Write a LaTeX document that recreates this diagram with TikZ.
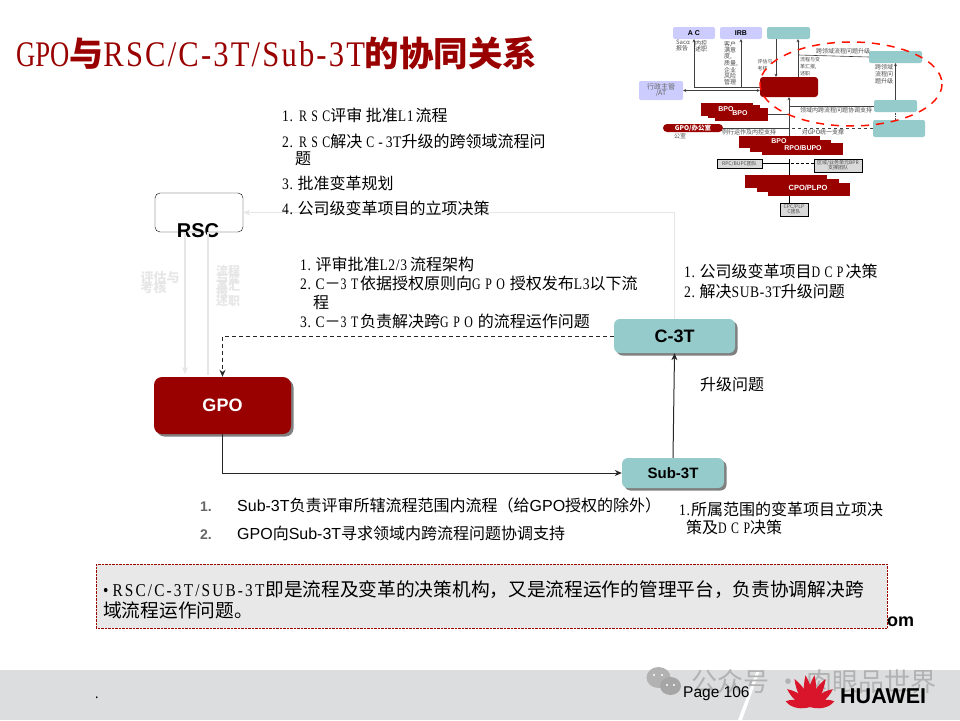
\documentclass[tikz,border=0pt]{standalone}
\usepackage{fontspec}
\setmainfont[FakeStretch=0.85,LetterSpace=4]{Liberation Serif}
\setsansfont{Liberation Sans}
\newfontfamily\cjk{Noto Sans CJK SC}
\newfontfamily\wide[FakeStretch=0.74,LetterSpace=28]{Liberation Serif}
\newfontfamily\titlefont[FakeStretch=0.85,LetterSpace=6]{Liberation Serif}
\newfontfamily\gpofont[FakeStretch=0.74]{Liberation Serif}
\newfontfamily\notefont[FakeStretch=0.85,LetterSpace=12]{Liberation Serif}
\usetikzlibrary{shadows,arrows.meta}
\definecolor{hwred}{HTML}{990000}
\definecolor{hwteal}{HTML}{96CBCB}
\definecolor{hwlav}{HTML}{CCCCFF}
\definecolor{hwband}{HTML}{DCDDDE}
\definecolor{hwfade}{HTML}{E6E6E6}
\definecolor{hwlogo}{HTML}{D9152B}
\newcommand{\zh}[1]{{\cjk #1}}
\newcommand{\fsz}[1]{\fontsize{#1}{#1}\selectfont}
\newcommand{\nb}{\hspace{4.5pt}}
\tikzset{
    >={Stealth[length=7pt, width=6pt]},
    txt/.style={anchor=base west, inner sep=0pt, font=\fsz{16}},
    tiny/.style={inner sep=0pt, align=center, text=black!70, font=\cjk\fsz{6}},
    stage/.style={inner sep=0pt, rounded corners=6pt, font=\sffamily\bfseries,
        drop shadow={shadow xshift=2.5pt, shadow yshift=-2.5pt, fill=black!50, opacity=1}},
    redbox/.style={stage, fill=hwred, text=white},
    tealbox/.style={stage, fill=hwteal, text=black},
    lavbox/.style={inner sep=0pt, rounded corners=2pt, fill=hwlav, font=\sffamily\bfseries\fsz{7}},
    minibox/.style={inner sep=0pt, rounded corners=2pt, fill=hwteal},
    teambox/.style={inner sep=0pt, draw=black, line width=0.8pt, fill=black!15, align=center, font=\cjk\fsz{5}, text=black!70},
    stair/.style={fill=hwred},
    fade/.style={draw=hwfade, line width=1.6pt},
    flow/.style={line width=1pt, black!85},
    thin/.style={draw=black!75, line width=0.6pt, >={Stealth[length=3pt, width=3pt]}},
}
\begin{document}
\begin{tikzpicture}[x=1pt, y=-1pt]
    \useasboundingbox (0,0) rectangle (960,720);

    % 页脚
    \fill[hwband] (0,670) rectangle (960,720);
    \fill[white] (757,670) -- (760,670) -- (742,720) -- (738,720) -- cycle;
    \node[anchor=base west, inner sep=0pt, text=black!30, font=\cjk\fsz{26}] (mark) at (691,691) {公众号 · 肉眼品世界};
    \fill[black!30] (658.5,677.5) ellipse (12 and 10.5);
    \fill[black!35] (670.5,686) ellipse (10.5 and 9);
    \foreach \x/\y in {654/675, 662/675, 667/685, 674/685} {
        \fill[white] (\x,\y) circle (1.2);
    }
    \node[txt, font=\sffamily\fsz{15.5}] (page) at (683,697) {Page 106};
    \node[txt] (dot) at (95,698) {.};
    \foreach \a/\l in {8/32, -8/32, 29/32, -29/32, 52/29, -52/29, 77/25, -77/25} {
        \fill[hwlogo, rotate around={\a:(810,707)}] (810,707) .. controls (806,700) and (804,690) .. (810,707-\l) .. controls (816,690) and (814,700) .. (810,707) -- cycle;
    }
    \node[txt, font=\sffamily\bfseries\fsz{21.5}] (huawei) at (840,703) {HUAWEI};

    % 标题
    \node[txt, text=hwred, font=\titlefont\fsz{36}] (title) at (16,66) {{\gpofont GPO}\zh{\bfseries\fsz{34}与}RSC/C-3T/Sub-3T\zh{\bfseries\fsz{34.5}的协同关系}};

    % 流程节点
    \node[inner sep=0pt, draw=black, fill=white, rounded corners=5pt, minimum width=88pt, minimum height=39pt] (rsc) at (199,212.5) {};
    \node[redbox, minimum width=137pt, minimum height=57pt, rounded corners=8pt, font=\sffamily\bfseries\fsz{18}] (gpo) at (222.5,405.5) {GPO};
    \node[tealbox, minimum width=121pt, minimum height=34pt, font=\sffamily\bfseries\fsz{18}] (c3t) at (674.5,336) {C-3T};
    \node[tealbox, minimum width=102pt, minimum height=30pt, font=\sffamily\bfseries\fsz{15}] (sub) at (673,473) {Sub-3T};
    \node[inner sep=0pt, font=\sffamily\bfseries\fsz{20}] (rsctxt) at (198,231) {RSC};

    % 连线
    \draw[fade, ->] (c3t.north) -- (c3t.north |- rsc.east) -- (rsc.east);
    \draw[fade, ->] (rsc.south -| 185,0) -- (185,374);
    \draw[fade] (rsc.south -| 208,0) -- (208,375);
    \draw[flow, dash pattern=on 4pt off 3pt, ->] (c3t.west) -- (c3t.west -| gpo.north) -- (gpo.north);
    \draw[flow, ->] (gpo.south) -- (gpo.south |- sub.west) -- (sub.west);
    \draw[flow, ->] (sub.north) -- (c3t.south);

    % 淡色标注
    \node[inner sep=0pt, align=left, text=hwfade, font=\cjk\bfseries\fsz{13}] (kpi) at (160,283) {\fsz{13}评估与\\[-3pt]考核};
    \node[inner sep=0pt, align=left, text=hwfade, font=\cjk\bfseries\fsz{12}] (duty) at (228,286) {流程\\[-4pt]与变\\[-5pt]革汇\\[-6pt]报\\[-3pt]述职};

    % 说明文字
    \node[txt] (a1) at (282,121) {1.\hspace{6pt}{\wide RSC}\zh{评审 批准}L1\hspace{2pt}\zh{流程}};
    \node[txt] (a2) at (282,147) {2.\hspace{6pt}{\wide RSC}\zh{解决}\hspace{4pt}{\wide C}\hspace{4pt}-\hspace{3pt}3T\zh{升级的跨领域流程问}};
    \node[txt] (a3) at (295,164) {\zh{题}};
    \node[txt] (a4) at (282,189) {3.\nb\zh{批准变革规划}};
    \node[txt] (a5) at (282,214) {4.\nb\zh{公司级变革项目的立项决策}};

    \node[txt] (b1) at (300,270) {1.\nb\zh{评审批准}L2/3\hspace{3pt}\zh{流程架构}};
    \node[txt] (b2) at (300,289) {2.\nb C\zh{－}{\wide 3T}\hspace{2pt}\zh{依据授权原则向}{\wide GPO}\hspace{5pt}\zh{授权发布}L3\zh{以下流}};
    \node[txt] (b3) at (313,308) {\zh{程}};
    \node[txt] (b4) at (300,327) {3.\nb C\zh{－}{\wide 3T}\hspace{2pt}\zh{负责解决跨}{\wide GPO}\hspace{5pt}\zh{的流程运作问题}};

    \node[txt] (c1) at (684,277) {1.\nb\zh{公司级变革项目}{\wide DCP}\hspace{2pt}\zh{决策}};
    \node[txt] (c2) at (684,297) {2.\nb\zh{解决}SUB-3T\zh{升级问题}};
    \node[txt] (up) at (700,390) {\zh{升级问题}};

    \node[txt, text=black!60, font=\sffamily\bfseries\fsz{14}] (d1) at (200,511) {1.};
    \node[txt, font=\sffamily\fsz{16}] (d2) at (237,511) {Sub-3T\zh{负责评审所辖流程范围内流程（给}GPO\zh{授权的除外）}};
    \node[txt, text=black!60, font=\sffamily\bfseries\fsz{14}] (d3) at (200,539) {2.};
    \node[txt, font=\sffamily\fsz{16}] (d4) at (237,539) {GPO\zh{向}Sub-3T\zh{寻求领域内跨流程问题协调支持}};

    \node[txt] (e1) at (679,515) {1.\hspace{1pt}\zh{所属范围的变革项目立项决}};
    \node[txt] (e2) at (686,533) {\zh{策及}{\wide DCP}\zh{决策}};

    % 底部说明框
    \node[txt, font=\sffamily\bfseries\fsz{18}] (om) at (887,626) {om};
    \draw[densely dotted, draw=hwred, fill=black!9] (96,564) rectangle (887,628);
    \node[txt, font=\fsz{18}] (f1) at (103,596) {•\hspace{4pt}{\notefont RSC/C-3T/SUB-3T}\hspace{1pt}{\cjk\fsz{18.7}即是流程及变革的决策机构，又是流程运作的管理平台，负责协调解决跨}};
    \node[txt, font=\fsz{18.7}] (f2) at (103,617) {\zh{域流程运作问题。}};

    % 右上角小图
    \node[lavbox, minimum width=42pt, minimum height=12pt] (ac) at (694,33) {A C};
    \node[lavbox, minimum width=42pt, minimum height=12pt] (irb) at (741,33) {IRB};
    \node[minibox, minimum width=43pt, minimum height=12pt] (topteal) at (788.5,33) {};
    \node[lavbox, minimum width=44pt, minimum height=19pt, align=center, font=\cjk\fsz{7}, text=black!60] (at) at (661,90.5) {行政主管\\[-1pt]/AT};
    \node[inner sep=0pt, fill=hwred, rounded corners=3pt, minimum width=58pt, minimum height=20pt] (core) at (789,87) {};
    \node[minibox, minimum width=53pt, minimum height=12pt] (rtop) at (895.5,57) {};
    \node[minibox, minimum width=43pt, minimum height=12pt] (rmid) at (895.5,106) {};
    \node[minibox, minimum width=52pt, minimum height=17pt] (rlow) at (899,128.5) {};
    \node[inner sep=0pt, fill=hwred, rounded corners=4pt, minimum width=60pt, minimum height=8pt, text=white, font=\cjk\bfseries\fsz{6.5}] (office) at (693,128) {GPO/办公室};

    \foreach \x/\y/\w in {701/103/52, 708/105/52, 715/108/53} {
        \fill[stair] (\x,\y) rectangle (\x+\w,\y+13);
    }
    \foreach \x/\y in {739/136, 750/140, 762/143} {
        \fill[stair] (\x,\y) rectangle (\x+81,\y+12);
    }
    \foreach \x/\y in {745/175, 757/179, 768/183} {
        \fill[stair] (\x,\y) rectangle (\x+82,\y+13);
    }
    \coordinate (bpo) at (768,114);
    \coordinate (rpo) at (789,136);
    \coordinate (cpo) at (789,175);
    \coordinate (cpob) at (789,196);
    \coordinate (rpob) at (789,159);
    \coordinate (hub) at (760,87);
    \node[teambox, minimum width=45pt, minimum height=9pt] (rpc) at (739.5,163.5) {RPC/BUPC团队};
    \node[teambox, minimum width=48pt, minimum height=13pt] (bpr) at (838,165.5) {区域/业务单元BPR\\[-1pt]支撑团队};
    \node[teambox, minimum width=28pt, minimum height=13pt] (cpc) at (794,209.5) {CPC/PLP\\[-1pt]C团队};

    \draw[thin, ->] (hub) -- (hub -| ac.south) -- (ac.south);
    \draw[thin, ->] (hub -| irb.south) -- (irb.south);
    \draw[thin, <->] (at.east) -- (at.east -| core.west);
    \draw[thin, ->] (topteal.south -| 776,0) -- (core.north -| 776,0);
    \draw[thin, ->] (core.north -| 798,0) -- (topteal.south -| 798,0);
    \draw[thin] (798,55) -- (rtop.west);
    \draw[thin, ->] (rmid.north) -- (rtop.south);
    \draw[thin, ->] (rpo) -- (core.south);
    \draw[thin] (rmid.west) -- (rmid.west -| core.south);
    \draw[thin] (bpo) -- (bpo -| core.south);
    \draw[thin] (office.east) -- (office.east -| core.south);
    \draw[thin, dashed] (rlow.west |- office.east) -- (office.east -| core.south);
    \draw[densely dotted, thin] (rlow.north -| rmid.south) -- (rmid.south);
    \draw[line width=0.8pt] (rpob) -- (cpo);
    \draw[line width=0.8pt] (cpob) -- (cpc.north -| cpob);
    \draw[line width=0.8pt] (rpc.east) -- (rpc.east -| rpob);
    \draw[line width=0.8pt, densely dashed] (bpr.west |- rpc.east) -- (rpc.east -| rpob);

    \node[tiny, align=left] (t1) at (683,46) {Sacα\\报告};
    \node[tiny, align=left] (t2) at (701,46) {内控\\述职};
    \node[tiny, align=left] (t3) at (731,63) {客户\\满意\\度,\\质量,\\企业\\风险\\管理};
    \node[tiny, align=left] (t4) at (765,65) {\fsz{5}评估与\\[1pt]\fsz{5}考核};
    \node[tiny, align=left] (t5) at (810,67) {\fsz{5}流程与变\\[1pt]\fsz{5}革汇报,\\[1pt]\fsz{5}述职};
    \node[tiny] (t6) at (843,51) {跨领域流程问题升级};
    \node[tiny, align=left] (t7) at (884,74) {跨领域\\[1pt]流程问\\[1pt]题升级};
    \node[tiny] (t8) at (836,110) {领域内跨流程问题协调支持};
    \node[tiny] (t9) at (749,132) {例行运作及内控支持};
    \node[tiny] (t10) at (823,132) {对GPO统一支撑};
    \node[tiny] (t11) at (680,136) {公室};
    \node[inner sep=0pt, text=white, font=\sffamily\bfseries\fsz{7}] (t12) at (726,109) {BPO};
    \node[inner sep=0pt, text=white, font=\sffamily\bfseries\fsz{7}] (t13) at (740,113) {BPO};
    \node[inner sep=0pt, text=white, font=\sffamily\bfseries\fsz{7}] (t14) at (779,141) {BPO};
    \node[inner sep=0pt, text=white, font=\sffamily\bfseries\fsz{7}] (t15) at (803,148) {RPO/BUPO};
    \node[inner sep=0pt, text=white, font=\sffamily\bfseries\fsz{7.5}] (t16) at (808,188) {CPO/PLPO};

    \draw[dashed, draw=red!85!orange, line width=1.5pt, dash pattern=on 8pt off 7pt] (851,84) ellipse (91 and 42);
\end{tikzpicture}
\end{document}
